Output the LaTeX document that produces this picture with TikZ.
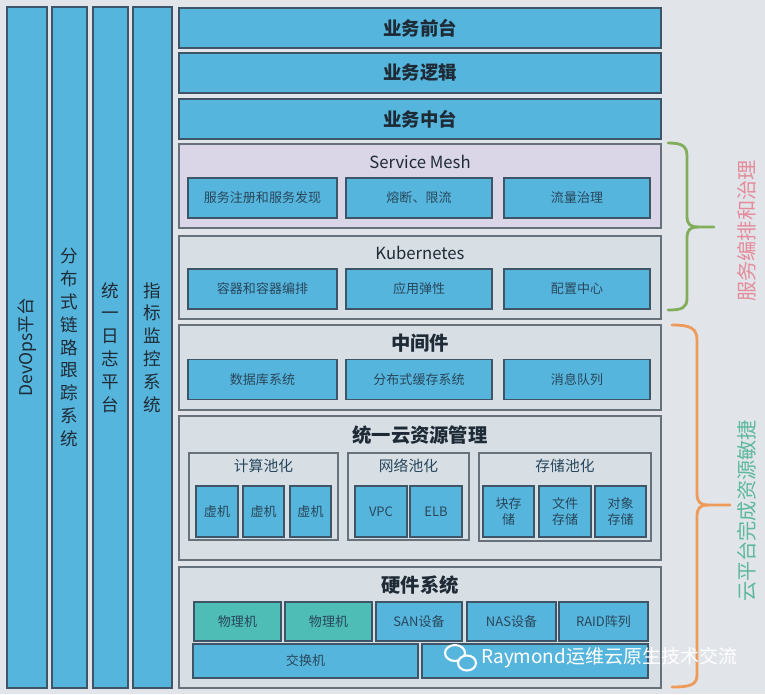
\documentclass[tikz,border=0pt]{standalone}
\usepackage{fontspec}
\setmainfont{Noto Sans CJK SC}
\usetikzlibrary{positioning}
\definecolor{bgc}{HTML}{E1E5E9}
\definecolor{bluec}{HTML}{56B5DC}
\definecolor{edgec}{HTML}{3D5566}
\definecolor{panelc}{HTML}{D7DEE4}
\definecolor{panelb}{HTML}{66717C}
\definecolor{meshc}{HTML}{DAD5E7}
\definecolor{tealc}{HTML}{4DBDB6}
\definecolor{txtc}{HTML}{1E2B36}
\definecolor{boxtxt}{HTML}{28475C}
\definecolor{pinkc}{HTML}{E48B9C}
\definecolor{greenc}{HTML}{5DB89C}
\definecolor{bracegc}{HTML}{82AE5C}
\definecolor{braceoc}{HTML}{EE9A5A}
\begin{document}
\begin{tikzpicture}[
    x=0.02cm, y=-0.02cm,
    sz/.style 2 args={minimum width=#1*0.02cm, minimum height=#2*0.02cm},
    col/.style={rectangle, draw=edgec, fill=bluec, line width=0.8pt, inner sep=0pt, align=center, text=txtc, font=\fontsize{10}{13}\selectfont},
    bar/.style={rectangle, draw=edgec, fill=bluec, line width=0.8pt, inner sep=0pt, text=txtc, font=\fontsize{10.5}{12}\selectfont\bfseries},
    panel/.style={rectangle, draw=panelb, fill=panelc, line width=0.8pt, inner sep=0pt},
    box/.style={rectangle, draw=edgec, fill=bluec, line width=0.8pt, inner sep=0pt, align=center, text=boxtxt, font=\fontsize{7.4}{9.5}\selectfont},
    title/.style={text=txtc, font=\fontsize{11}{13}\selectfont\bfseries},
    subtitle/.style={text=txtc, font=\fontsize{9.5}{12}\selectfont},
    grptitle/.style={text=boxtxt, font=\fontsize{8.4}{10}\selectfont},
    side/.style={rotate=90, font=\fontsize{11.5}{13}\selectfont},
    brace/.style={line width=1.6pt, line cap=round}
]
\fill[bgc] (0,0) rectangle (765,694);
\useasboundingbox (0,0) rectangle (765,694);
\node[col, rotate=90, sz={681}{40}] (devops) at (27,347.5) {DevOps平台};
\node[col, sz={35}{681}] (trace) at (69.5,347.5) {分\\布\\式\\链\\路\\跟\\踪\\系\\统};
\node[col, sz={35}{681}] (logs) at (110.5,347.5) {统\\一\\日\\志\\平\\台};
\node[col, sz={39}{681}] (metrics) at (152.5,347.5) {指\\标\\监\\控\\系\\统};
\node[bar, sz={482}{40}] (front) at (420,28) {业务前台};
\node[bar, sz={482}{40}] (logic) at (420,73) {业务逻辑};
\node[bar, sz={482}{40}] (middle) at (420,119) {业务中台};
\node[panel, fill=meshc, sz={482}{84}] (mesh) at (420,186) {};
\node[subtitle] (meshtitle) at (420,162) {Service Mesh};
\node[box, sz={149}{40}] (discovery) at (262.5,198) {服务注册和服务发现};
\node[box, sz={146}{40}] (breaker) at (419,198) {熔断、限流};
\node[box, sz={146}{40}] (traffic) at (577,198) {流量治理};
\node[panel, sz={482}{83}] (k8s) at (420,277.5) {};
\node[subtitle] (k8stitle) at (420,253) {Kubernetes};
\node[box, sz={149}{40}] (container) at (262.5,289) {容器和容器编排};
\node[box, sz={146}{40}] (elastic) at (419,289) {应用弹性};
\node[box, sz={146}{40}] (config) at (577,289) {配置中心};
\node[panel, sz={482}{85}] (mid) at (420,367.5) {};
\node[title] (midtitle) at (420,343) {中间件};
\node[box, sz={149}{40}] (db) at (262.5,379.5) {数据库系统};
\node[box, sz={146}{40}] (cache) at (419,379.5) {分布式缓存系统};
\node[box, sz={146}{40}] (mq) at (577,379.5) {消息队列};
\node[panel, sz={482}{144}] (res) at (420,488) {};
\node[title] (restitle) at (420,435) {统一云资源管理};
\node[panel, sz={149}{87}] (compute) at (263.5,496.5) {};
\node[grptitle] at (263.5,466) {计算池化};
\node[panel, sz={121}{87}] (network) at (408.5,496.5) {};
\node[grptitle] at (408.5,466) {网络池化};
\node[panel, sz={172}{88}] (storage) at (565,497) {};
\node[grptitle] at (565,466) {存储池化};
\node[box, sz={42}{51}] (vm1) at (217,511.5) {虚机};
\node[box, sz={41}{51}] (vm2) at (263.5,511.5) {虚机};
\node[box, sz={41}{51}] (vm3) at (310.5,511.5) {虚机};
\node[box, sz={52}{51}] (vpc) at (381,511.5) {VPC};
\node[box, sz={52}{51}] (elb) at (436,511.5) {ELB};
\node[box, sz={51}{51}] (block) at (508.5,511.5) {块存\\储};
\node[box, sz={52}{51}] (file) at (565,511.5) {文件\\存储};
\node[box, sz={51}{51}] (object) at (620.5,511.5) {对象\\存储};
\node[panel, sz={482}{121}] (hw) at (420,627.5) {};
\node[title] (hwtitle) at (420,585) {硬件系统};
\node[box, fill=tealc, sz={87}{39}] (pm1) at (237.5,621.5) {物理机};
\node[box, fill=tealc, sz={87}{39}] (pm2) at (328.5,621.5) {物理机};
\node[box, sz={86}{39}] (san) at (419,621.5) {SAN设备};
\node[box, sz={89}{39}] (nas) at (511.5,621.5) {NAS设备};
\node[box, sz={89}{39}] (raid) at (603.5,621.5) {RAID阵列};
\node[box, sz={225}{34}] (switch) at (305.5,661) {交换机};
\node[box, sz={226}{34}] (switchb) at (535,661) {};
\draw[brace, bracegc] (668,143) .. controls (682,143) and (687,146) .. (687,156) -- (687,216) .. controls (687,224) and (690,227) .. (698,227) -- (714,227);
\draw[brace, bracegc] (698,227) .. controls (690,227) and (687,230) .. (687,238) -- (687,298) .. controls (687,308) and (682,310) .. (668,310);
\draw[brace, braceoc] (672,325) .. controls (690,325) and (697,328) .. (697,340) -- (697,493) .. controls (697,502) and (700,505) .. (708,505) -- (730,505);
\draw[brace, braceoc] (708,505) .. controls (700,505) and (697,508) .. (697,517) -- (697,675) .. controls (697,685) and (690,687) .. (672,687);
\node[side, text=pinkc] (govern) at (747,231) {服务编排和治理};
\node[side, text=greenc] (agile) at (747,511) {云平台完成资源敏捷};
\draw[white, line width=1.2pt] (455,653) ellipse (10 and 8);
\draw[white, fill=bluec, line width=1.2pt] (467,663) ellipse (9 and 7.5);
\node[anchor=west, text=white, inner sep=0pt, font=\fontsize{10.8}{12}\selectfont] (mark) at (481,658) {Raymond运维云原生技术交流};
\end{tikzpicture}
\end{document}
